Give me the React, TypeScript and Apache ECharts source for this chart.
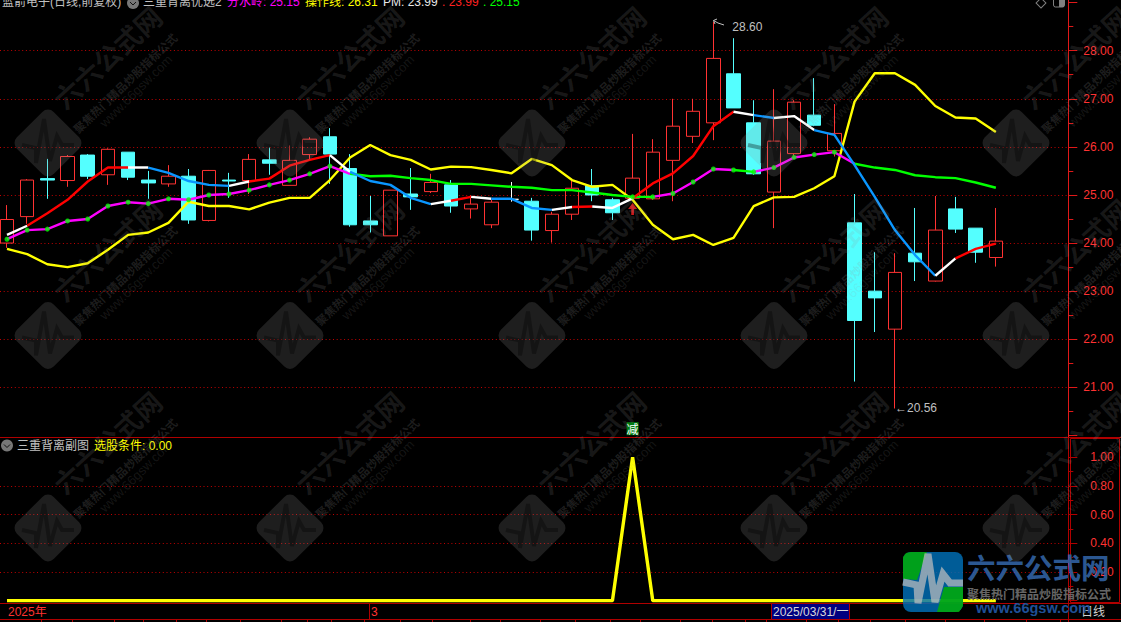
import React, { useEffect, useRef } from "react";
import * as echarts from "echarts";

const FONT = '"Liberation Sans","Noto Sans CJK SC",sans-serif';
const CJK = '"Noto Sans CJK SC",sans-serif';

const opens = [24.0,24.55,25.34,25.3,25.83,25.42,25.89,25.31,25.23,25.39,24.47,25.31,25.3,25.73,25.2,25.84,26.21,25.55,24.46,24.15,25.02,25.07,25.21,24.71,24.38,24.91,24.87,24.26,24.6,25.19,24.9,24.93,24.92,25.72,26.22,26.5,27.52,26.5,25.06,25.86,26.66,25.92,24.42,23.0,22.21,23.79,23.21,24.71,24.31,23.7];
const closes = [24.49,25.31,25.31,25.8,25.39,25.95,25.37,25.25,25.39,24.48,25.51,25.29,25.74,25.66,25.72,26.16,25.85,24.38,24.38,25.1,24.96,25.26,24.77,24.81,24.85,24.91,24.27,24.6,25.14,25.0,24.63,25.35,25.89,26.43,26.74,27.84,26.81,25.44,26.12,26.93,26.45,26.28,22.39,22.86,23.39,23.61,24.27,24.29,23.81,24.04];
const lows = [23.9,24.4,24.92,25.17,25.33,25.21,25.31,24.92,25.17,24.4,24.45,24.94,25.02,25.42,25.2,25.73,25.23,24.34,24.22,24.15,24.69,25.04,24.63,24.51,24.31,24.86,24.05,24.01,24.48,24.87,24.48,24.9,24.9,24.87,26.08,26.14,26.81,25.42,24.31,25.8,26.43,25.8,21.12,22.15,20.56,23.21,23.2,24.21,23.59,23.51];
const highs = [24.79,25.33,25.75,25.83,25.85,25.97,25.89,25.5,25.62,25.54,25.52,25.46,25.85,25.99,26.03,26.2,26.39,25.85,24.98,25.1,25.56,25.44,25.31,24.99,24.9,25.27,24.94,24.65,25.3,25.54,24.94,26.27,26.16,27.0,27.0,28.6,28.26,26.97,27.2,26.97,27.43,26.89,25.02,23.81,23.79,24.73,24.98,24.96,24.31,24.73];

const operateLine = [23.88,23.77,23.56,23.5,23.58,23.86,24.17,24.22,24.42,24.86,24.77,24.77,24.7,24.84,24.94,24.94,25.31,25.78,26.04,25.83,25.73,25.53,25.59,25.58,25.52,25.45,25.75,25.62,25.31,25.17,25.21,24.9,24.38,24.08,24.17,23.96,24.11,24.77,24.95,24.96,25.14,25.39,26.94,27.53,27.53,27.29,26.85,26.61,26.59,26.31];
const pmLine = [24.17,24.36,24.62,24.9,25.28,25.57,25.57,25.57,25.46,25.29,25.21,25.19,25.28,25.34,25.61,25.73,25.83,25.48,25.29,25.21,24.94,24.81,24.88,24.96,24.92,24.92,24.73,24.69,24.75,24.76,24.73,24.93,25.24,25.45,25.81,26.43,26.73,26.66,26.6,26.64,26.35,26.25,25.62,24.96,24.27,23.75,23.32,23.68,23.88,23.99];
const pmSegments = "wrrrrrwbbbbwrrrrwbbbbwrwbbbwrwwrrrrrwbwwbbbbbbwrr";
const waterLine = [24.08,24.27,24.29,24.46,24.5,24.77,24.85,24.82,24.92,24.9,25.0,25.02,25.1,25.21,25.31,25.44,25.6,25.44,25.39,25.4,25.35,25.31,25.23,25.23,25.2,25.17,25.15,25.1,25.1,25.05,25.0,24.96,24.96,25.03,25.27,25.54,25.52,25.48,25.57,25.78,25.84,25.89,25.65,25.57,25.52,25.41,25.37,25.35,25.26,25.15];
const waterSegments = "mmmmmmmmmmmmmmmmmgggggggggggggggmmmmgmmmmmggggggg";
const waterDots = [0,1,2,3,4,5,6,7,8,9,10,11,12,13,14,15,16,31,32,33,34,35,36,37,38,39,40,41];
const signalValues = [0,0,0,0,0,0,0,0,0,0,0,0,0,0,0,0,0,0,0,0,0,0,0,0,0,0,0,0,0,0,0,1,0,0,0,0,0,0,0,0,0,0,0,0,0,0,0,0,0,0];
const arrowValues: [number, number][] = [[31, 24.71]];
const tagValue = 20.14;

const colours: Record<string, string> = { w: "#ffffff", r: "#ff0000", b: "#0a96ff", m: "#ff00ff", g: "#00ff00" };
const bottomTicks = [41,72,114,143,176,206,240,281,307,331,364,400,432,470,500,540,575,610,640,680,712,745,766,806,838,870,905,945,984,1026,1060];
const monthMark = 369;
const xMin = -0.347;
const xMax = 52.59;

const indexed = (values: number[]) => values.map((v, i) => [i, v]);

function runs(values: number[], segments: string, width: number) {
  const out: any[] = [];
  let start = 0;
  for (let i = 1; i <= segments.length; i++) {
    if (i === segments.length || segments[i] !== segments[start]) {
      const end = Math.min(i, values.length - 1);
      out.push({
        type: "line", xAxisIndex: 0, yAxisIndex: 0, silent: true, showSymbol: false, symbol: "none", z: 5,
        lineStyle: { color: colours[segments[start]], width },
        data: indexed(values).slice(start, end + 1),
      });
      start = i;
    }
  }
  return out;
}

function tile(cx: number, cy: number) {
  const textStyle = (text: string, font: string, fill: string) => ({ text, font, fill, align: "center", verticalAlign: "middle" });
  return {
    type: "group", x: cx, y: cy, z: 100, silent: true,
    children: [
      { type: "rect", z: 100, rotation: Math.PI / 4, shape: { x: -26, y: -26, width: 52, height: 52, r: 8 }, style: { fill: "rgba(150,150,150,0.2)" } },
      { type: "polyline", z: 101, shape: { points: [[-26, 2],[-12, 5],[-12, 20],[-4, -24],[2, 18],[9, -7],[14, 2],[26, 2]] }, style: { stroke: "rgba(0,0,0,0.32)", lineWidth: 4, fill: "none" } },
      { type: "text", z: 100, x: 59, y: -86, rotation: 0.74, style: textStyle("六六公式网", `bold 27px ${CJK}`, "rgba(150,150,150,0.16)") },
      { type: "text", z: 100, x: 77, y: -60, rotation: 0.76, style: textStyle("聚焦热门精品炒股指标公式", `bold 11.5px ${CJK}`, "rgba(150,150,150,0.2)") },
      { type: "text", z: 100, x: 88, y: -52, rotation: 0.78, style: textStyle("www.66gsw.com", `13px ${FONT}`, "rgba(150,150,150,0.15)") },
    ],
  };
}

function label(text: string, x: number, y: number, fill: string, size = 12) {
  return { type: "text", x, y, z: 60, silent: true, style: { text, fill, font: `${size}px ${FONT}`, verticalAlign: "middle" } };
}
function hLine(x1: number, y1: number, x2: number, y2: number, stroke: string, lineWidth = 1) {
  return { type: "line", z: 50, silent: true, shape: { x1, y1, x2, y2 }, style: { stroke, lineWidth } };
}
function chevron(cx: number, cy: number) {
  return [
    { type: "circle", z: 60, silent: true, shape: { cx, cy, r: 6 }, style: { fill: "#777777" } },
    { type: "polyline", z: 61, silent: true, shape: { points: [[cx - 3, cy - 1],[cx, cy + 2],[cx + 3, cy - 1]] }, style: { stroke: "#111111", lineWidth: 1, fill: "none" } },
  ];
}

function logo() {
  const x0 = 903, y0 = 552;
  const pulse = [[0, 30],[14, 33],[15, 51],[25, 2],[32, 50],[40, 22],[47, 31],[60, 31]];
  const shift = (pts: number[][]) => pts.map(([a, b]) => [x0 + a, y0 + b]);
  return [
    { type: "rect", z: 70, silent: true, shape: { x: x0, y: y0, width: 60, height: 60, r: 8 }, style: { fill: "#0070b8", opacity: 0.82 } },
    { type: "polygon", z: 71, silent: true, shape: { points: shift([[3, 1],[8, 0],[24, 0],[14, 28],[0, 27],[0, 5]]) }, style: { fill: "#00b000", opacity: 0.82 } },
    { type: "polygon", z: 71, silent: true, shape: { points: shift([[41, 35],[60, 35],[60, 54],[56, 60],[34, 60]]) }, style: { fill: "#00b000", opacity: 0.82 } },
    { type: "polyline", z: 72, silent: true, shape: { points: shift(pulse) }, style: { stroke: "rgba(190,190,190,0.72)", lineWidth: 7, fill: "none" } },
    { type: "text", z: 72, silent: true, x: 967, y: 566, style: { text: "六六公式网", font: `bold 28.5px ${CJK}`, fill: "rgba(48,96,160,0.92)", verticalAlign: "middle" } },
    { type: "text", z: 72, silent: true, x: 967, y: 593, style: { text: "聚焦热门精品炒股指标公式", font: `bold 12px ${CJK}`, fill: "#666666", verticalAlign: "middle" } },
    { type: "text", z: 72, silent: true, x: 976, y: 608, style: { text: "www.66gsw.com", font: `bold 14.5px ${FONT}`, fill: "#1f4f96", verticalAlign: "middle" } },
  ];
}

const MAIN_RED = "#ff3232";
const DARK_RED = "#b00000";

export default function App() {
  const ref = useRef<HTMLDivElement>(null);
  useEffect(() => {
    const chart = echarts.init(ref.current!, null, { renderer: "svg", width: 1121, height: 622 });
    const candleData = opens.map((o, i) => [i, o, closes[i], lows[i], highs[i]]);
    const gridSide = { left: 0, width: 1068.3 };
    const tiles: any[] = [];
    [143, 335.5, 528].forEach((y) => [48, 290, 532, 774, 1016].forEach((x) => tiles.push(tile(x, y))));

    const xBase = { type: "value", min: xMin, max: xMax, show: false, splitLine: { show: false } };
    chart.setOption({
      animation: false,
      backgroundColor: "#000000",
      grid: [
        { ...gridSide, top: 2.61, height: 432.81 },
        { ...gridSide, top: 457.2, height: 143.5 },
      ],
      xAxis: [{ ...xBase, gridIndex: 0 }, { ...xBase, gridIndex: 1 }],
      yAxis: [
        {
          gridIndex: 0, type: "value", position: "right", min: 20, max: 29, interval: 1,
          axisLine: { show: true, onZero: false, lineStyle: { color: "#e01818" } },
          axisTick: { show: true, length: 9, lineStyle: { color: "#e01818" } },
          minorTick: { show: true, splitNumber: 2, length: 5, lineStyle: { color: "#e01818" } },
          axisLabel: { color: MAIN_RED, fontSize: 12, fontFamily: FONT, margin: 15, showMinLabel: false, showMaxLabel: false, formatter: (v: number) => v.toFixed(2) },
          splitLine: { show: true, showMinLine: false, showMaxLine: false, lineStyle: { color: "#c00000", type: [1, 2.7], width: 1 } },
        },
        {
          gridIndex: 1, type: "value", position: "right", min: 0, max: 1, interval: 0.2,
          axisLine: { show: true, onZero: false, lineStyle: { color: DARK_RED } },
          axisTick: { show: true, length: 9, lineStyle: { color: DARK_RED } },
          minorTick: { show: true, splitNumber: 2, length: 5, lineStyle: { color: DARK_RED } },
          axisLabel: { color: MAIN_RED, fontSize: 12, fontFamily: FONT, margin: 22, showMinLabel: false, formatter: (v: number) => v.toFixed(2) },
          splitLine: { show: true, showMinLine: false, showMaxLine: false, lineStyle: { color: "#c00000", type: [1, 2.7], width: 1 } },
        },
      ],
      series: [
        {
          type: "candlestick", xAxisIndex: 0, yAxisIndex: 0, silent: true, barWidth: 14, z: 3,
          encode: { x: 0, y: [1, 2, 3, 4] },
          data: candleData,
          itemStyle: {
            color: "rgba(0,0,0,0)", color0: "#54ffff", borderColor: MAIN_RED, borderColor0: "#54ffff",
            borderColorDoji: "#ffffff", borderWidth: 1,
          },
          markPoint: {
            silent: true,
            data: [
              { coord: [35, 28.6], symbol: "circle", symbolSize: 0.01, label: { show: true, position: "right", offset: [14, 5], formatter: "28.60", color: "#c0c0c0", fontSize: 12, fontFamily: FONT } },
              { coord: [44, 20.56], symbol: "circle", symbolSize: 0.01, label: { show: true, position: "right", distance: 0, formatter: "←20.56", color: "#c0c0c0", fontSize: 12, fontFamily: FONT } },
              { coord: [31, tagValue], symbol: "rect", symbolSize: [12, 13], itemStyle: { color: "#007a10" }, label: { show: true, position: "inside", formatter: "减", color: "#ffffff", fontSize: 12, fontFamily: CJK } },
            ],
          },
        },
        {
          type: "line", xAxisIndex: 0, yAxisIndex: 0, silent: true, showSymbol: false, symbol: "none", z: 4,
          data: indexed(operateLine), lineStyle: { color: "#ffff00", width: 2.4 },
        },
        ...runs(waterLine, waterSegments, 2.4),
        ...runs(pmLine, pmSegments, 2.4),
        {
          type: "scatter", xAxisIndex: 0, yAxisIndex: 0, silent: true, symbol: "circle", symbolSize: 5, z: 6,
          itemStyle: { color: "#00ff00" },
          data: waterDots.map((i) => [i, waterLine[i]]),
        },
        {
          type: "scatter", xAxisIndex: 0, yAxisIndex: 0, silent: true, z: 7, symbolSize: [9, 12],
          symbol: "path://M5 0 L10 6 L6.5 6 L6.5 12 L3.5 12 L3.5 6 L0 6Z",
          itemStyle: { color: "#ff2020" },
          data: arrowValues,
        },
        {
          type: "line", xAxisIndex: 1, yAxisIndex: 1, silent: true, showSymbol: false, symbol: "none", z: 4,
          data: indexed(signalValues), lineStyle: { color: "#ffff00", width: 3.4 },
        },
      ],
      graphic: [
        hLine(0, 437.5, 1121, 437.5, DARK_RED),
        hLine(0, 603.5, 1121, 603.5, DARK_RED),
        hLine(0, 619.5, 1121, 619.5, DARK_RED),
        hLine(1068.5, 0, 1068.5, 437, "#e01818"),
        hLine(1068.5, 437, 1068.5, 622, DARK_RED),
        hLine(monthMark + 0.5, 603, monthMark + 0.5, 620, DARK_RED),
        { type: "rect", z: 50, silent: true, shape: { x: 1070.5, y: 438.5, width: 49, height: 164 }, style: { fill: "none", stroke: DARK_RED, lineWidth: 1 } },
        ...bottomTicks.map((x) => hLine(x + 0.5, 620, x + 0.5, 622, DARK_RED)),
        { type: "rect", z: 55, silent: true, shape: { x: 771.5, y: 603.5, width: 78, height: 16 }, style: { fill: "#000080", stroke: DARK_RED, lineWidth: 1 } },
        label("2025/03/31/一", 773, 611.5, "#d8d8d8"),
        label("2025年", 8, 611.5, MAIN_RED),
        label("3", 371, 611.5, MAIN_RED),
        label("日线", 1081, 611.5, "#d0d0d0"),
        label("蓝箭电子(日线,前复权)", 2, 1.5, "#c0c0c0"),
        ...chevron(133, 3),
        label("三重背离优选2", 143, 1.5, "#c0c0c0"),
        label("分水岭: 25.15", 227, 1.5, "#ff00ff"),
        label("操作线: 26.31", 305, 1.5, "#ffff00"),
        label("PM: 23.99", 383, 1.5, "#e8e8e8"),
        label(". 23.99", 442, 1.5, "#ff2020"),
        label(". 25.15", 483, 1.5, "#00ff00"),
        ...chevron(7, 445.5),
        label("三重背离副图", 17, 446, "#c0c0c0"),
        label("选股条件: 0.00", 94, 446, "#ffff00"),
        { type: "rect", z: 60, silent: true, rotation: Math.PI / 4, x: 1041, y: 3, shape: { x: -3.5, y: -3.5, width: 7, height: 7 }, style: { fill: "none", stroke: "#808080", lineWidth: 1 } },
        { type: "rect", z: 60, silent: true, shape: { x: 1053.5, y: -4, width: 11, height: 11, r: 2 }, style: { fill: "none", stroke: "#808080", lineWidth: 1 } },
        { type: "rect", z: 60, silent: true, shape: { x: 1059, y: -4, width: 5, height: 11 }, style: { fill: "#808080" } },
        { type: "polyline", z: 60, silent: true, shape: { points: [[713.5, 20.5],[718, 23],[724, 25]] }, style: { stroke: "#c0c0c0", lineWidth: 1, fill: "none" } },
        { type: "polyline", z: 60, silent: true, shape: { points: [[717, 19],[713.5, 20.5],[715, 24]] }, style: { stroke: "#c0c0c0", lineWidth: 1, fill: "none" } },
        ...tiles,
        ...logo(),
      ],
    });
    return () => chart.dispose();
  }, []);
  return <div ref={ref} style={{ position: "fixed", left: 0, top: 0, width: 1121, height: 622, overflow: "hidden", background: "#000" }} />;
}
